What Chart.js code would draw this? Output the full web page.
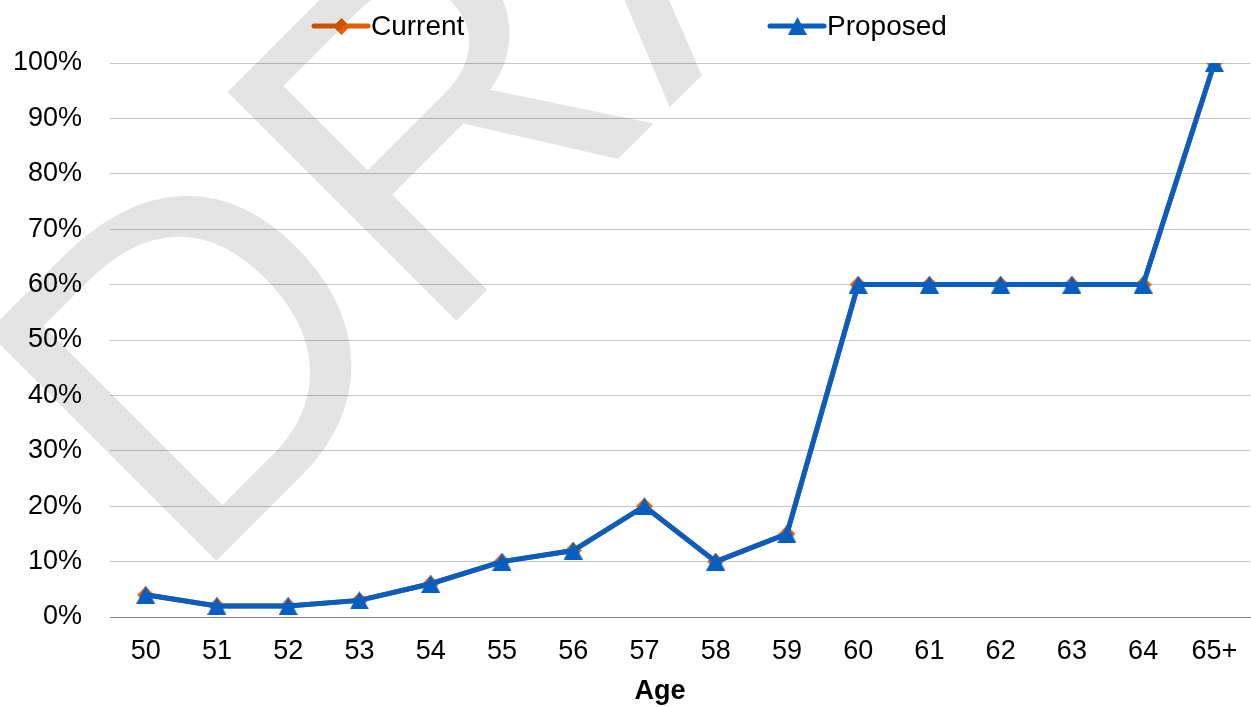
<!DOCTYPE html>
<html>
<head>
    <title>Current vs Proposed by Age</title>
    <script src="https://cdn.jsdelivr.net/npm/chart.js"></script>
    <style>
        body {
            margin: 0;
            padding: 0;
            background-color: #fff;
            overflow: hidden;
        }

        #outer {
            width: 1251px;
            height: 707px;
            overflow: hidden;
        }

        /* a bit wider than the window: chart.js keeps some room right of the last label */
        #wrap {
            width: 1265px;
            height: 707px;
            position: relative;
        }
    </style>
</head>
<body>
    <div id="outer">
        <div id="wrap">
            <canvas id="myChart"></canvas>
        </div>
    </div>

    <script>
        // data
        var ages = ['50', '51', '52', '53', '54', '55', '56', '57', '58', '59', '60', '61', '62', '63', '64', '65+'];
        var current = [4, 2, 2, 3, 6, 10, 12, 20, 10, 15, 60, 60, 60, 60, 60, 100];
        var proposed = [4, 2, 2, 3, 6, 10, 12, 20, 10, 15, 60, 60, 60, 60, 60, 100];
        var seriesNames = ['Current', 'Proposed'];
        var xTitle = 'Age';
        var watermarkText = 'DRAFT';

        var orange = '#E65C00';
        var blue = '#075EC1';
        var fontFamily = "'Liberation Sans', Arial, sans-serif";

        // excel style markers (triangle centred on the point, not like chart.js one)
        function makeMarker(kind, color) {
            var c = document.createElement('canvas');
            var w = kind === 'diamond' ? 17 : 19;
            var h = kind === 'diamond' ? 17 : 18;
            c.width = w;
            c.height = h;
            var g = c.getContext('2d');
            g.fillStyle = color;
            g.beginPath();
            if (kind === 'diamond') {
                g.moveTo(w / 2, 0);
                g.lineTo(w, h / 2);
                g.lineTo(w / 2, h);
                g.lineTo(0, h / 2);
            } else {
                g.moveTo(w / 2, 0);
                g.lineTo(w, h);
                g.lineTo(0, h);
            }
            g.closePath();
            g.fill();
            return c;
        }

        var diamond = makeMarker('diamond', orange);
        var triangle = makeMarker('triangle', blue);

        // legend spread across the top, axis title, and the big watermark on top of everything
        var extras = {
            id: 'extras',
            afterDraw: function(chart) {
                var ctx = chart.ctx;
                var starts = [312, 768];
                ctx.save();
                chart.data.datasets.forEach(function(ds, i) {
                    var x = starts[i];
                    var y = 26;
                    ctx.strokeStyle = ds.borderColor;
                    ctx.lineWidth = 5;
                    ctx.lineCap = 'round';
                    ctx.beginPath();
                    ctx.moveTo(x + 2, y);
                    ctx.lineTo(x + 56, y);
                    ctx.stroke();
                    var img = ds.pointStyle;
                    ctx.drawImage(img, Math.round(x + 29 - img.width / 2), Math.round(y - img.height / 2));
                    ctx.fillStyle = '#000';
                    ctx.font = '28px ' + fontFamily;
                    ctx.textBaseline = 'middle';
                    ctx.textAlign = 'left';
                    ctx.fillText(ds.label, x + 59, y + 1);
                });

                // excel puts the title a little left of the plot centre
                ctx.font = 'bold 27px ' + fontFamily;
                ctx.textAlign = 'center';
                ctx.textBaseline = 'middle';
                ctx.fillStyle = '#000';
                ctx.fillText(xTitle, 660, 692);
                ctx.restore();

                ctx.save();
                ctx.translate(189, 588);
                ctx.rotate(-Math.PI / 4);
                ctx.font = '470px ' + fontFamily;
                ctx.fillStyle = 'rgba(0, 0, 0, 0.105)';
                ctx.textBaseline = 'alphabetic';
                ctx.textAlign = 'left';
                ctx.fillText(watermarkText, 0, 0);
                ctx.restore();
            }
        };

        var ctx = document.getElementById('myChart').getContext('2d');
        var myChart = new Chart(ctx, {
            type: 'line',
            data: {
                labels: ages,
                datasets: [{
                    label: seriesNames[0],
                    data: current,
                    borderColor: orange,
                    backgroundColor: orange,
                    borderWidth: 5,
                    pointStyle: diamond,
                    pointRadius: 8,
                    tension: 0,
                    order: 1
                }, {
                    label: seriesNames[1],
                    data: proposed,
                    borderColor: blue,
                    backgroundColor: blue,
                    borderWidth: 5,
                    pointStyle: triangle,
                    pointRadius: 10,
                    tension: 0,
                    order: 0
                }]
            },
            options: {
                responsive: true,
                maintainAspectRatio: false,
                animation: false,
                layout: {
                    padding: { top: 63, left: -15, right: 0, bottom: 20 }
                },
                plugins: {
                    legend: { display: false },
                    tooltip: { enabled: false }
                },
                scales: {
                    x: {
                        offset: true,
                        grid: { display: false, drawTicks: false },
                        border: { display: true, color: '#8a8a8a', width: 1 },
                        ticks: {
                            color: '#000',
                            padding: 0,
                            maxRotation: 0,
                            autoSkip: false,
                            font: { family: fontFamily, size: 27, lineHeight: '70px' }
                        }
                    },
                    y: {
                        min: 0,
                        max: 100,
                        grid: { color: '#c6c6c6', lineWidth: 1, drawTicks: false },
                        border: { display: false },
                        ticks: {
                            stepSize: 10,
                            color: '#000',
                            padding: 28,
                            font: { family: fontFamily, size: 27 },
                            callback: function(v) { return v + '%'; }
                        }
                    }
                }
            },
            plugins: [extras]
        });
    </script>
</body>
</html>
